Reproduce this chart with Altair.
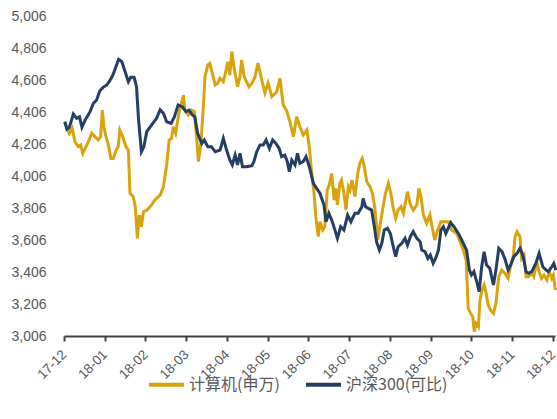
import altair as alt
import pandas as pd

month_labels = ["17-12", "18-01", "18-02", "18-03", "18-04", "18-05", "18-06",
                "18-07", "18-08", "18-09", "18-10", "18-11", "18-12"]
y_ticks = list(range(3006, 5007, 200))

name_cs = "计算机(申万)"
name_hs = "沪深300(可比)"

# x in months since 2017-12 (fractional)
cs_x = [0.02, 0.07, 0.13, 0.20, 0.27, 0.35, 0.41, 0.46, 0.52, 0.60, 0.68, 0.76, 0.84, 0.90, 0.94, 0.98,
        1.03, 1.09, 1.15, 1.21, 1.28, 1.33, 1.37, 1.44, 1.52, 1.58, 1.62, 1.70, 1.75, 1.80, 1.85, 1.90,
        1.95, 2.04, 2.15, 2.23, 2.36, 2.44, 2.52, 2.58, 2.64, 2.68, 2.74, 2.82, 2.89, 2.93, 2.97, 3.05,
        3.13, 3.20, 3.26, 3.30, 3.36, 3.42, 3.46, 3.53, 3.58, 3.64, 3.71, 3.77, 3.83, 3.91, 3.97, 4.02,
        4.07, 4.12, 4.17, 4.26, 4.32, 4.36, 4.42, 4.48, 4.54, 4.61, 4.69, 4.76, 4.86, 4.93, 5.01, 5.10,
        5.22, 5.30, 5.38, 5.47, 5.55, 5.63, 5.71, 5.79, 5.87, 5.96, 6.02, 6.08, 6.13, 6.18, 6.24, 6.28,
        6.35, 6.40, 6.46, 6.51, 6.57, 6.63, 6.67, 6.71, 6.77, 6.81, 6.87, 6.92, 6.98, 7.02, 7.07, 7.14,
        7.21, 7.26, 7.32, 7.37, 7.43, 7.51, 7.57, 7.63, 7.70, 7.75, 7.81, 7.89, 7.96, 8.02, 8.08, 8.14,
        8.20, 8.27, 8.33, 8.39, 8.43, 8.49, 8.57, 8.66, 8.71, 8.76, 8.82, 8.90, 8.98, 9.04, 9.10, 9.17,
        9.25, 9.31, 9.43, 9.51, 9.64, 9.72, 9.80, 9.87, 9.92, 9.98, 10.03, 10.07, 10.11, 10.17, 10.21,
        10.26, 10.31, 10.36, 10.41, 10.47, 10.54, 10.60, 10.67, 10.74, 10.82, 10.90, 10.96, 11.03, 11.07,
        11.12, 11.19, 11.23, 11.29, 11.34, 11.40, 11.48, 11.53, 11.60, 11.66, 11.72, 11.78, 11.85, 11.91,
        11.97, 12.01, 12.06]
cs_v = [4345, 4310, 4273, 4304, 4220, 4189, 4200, 4148, 4179, 4220, 4273, 4252, 4231, 4252, 4418, 4314,
        4252, 4200, 4116, 4116, 4168, 4189, 4293, 4252, 4189, 4168, 3898, 3877, 3814, 3616, 3762, 3689,
        3783, 3793, 3825, 3856, 3887, 3939, 4075, 4231, 4241, 4314, 4273, 4398, 4470, 4512, 4418, 4387,
        4418, 4408, 4231, 4096, 4210, 4439, 4627, 4700, 4710, 4648, 4575, 4585, 4617, 4595, 4658, 4720,
        4637, 4783, 4690, 4564, 4627, 4731, 4627, 4595, 4564, 4585, 4627, 4712, 4600, 4525, 4587, 4502,
        4533, 4617, 4450, 4410, 4340, 4252, 4376, 4314, 4262, 4293, 4189, 4023, 3918, 3752, 3627, 3720,
        3668, 3689, 3918, 3950, 4023, 3856, 3929, 3825, 3960, 3981, 3898, 3793, 3939, 3918, 3981, 3877,
        4023, 4085, 4116, 4064, 3970, 3939, 3898, 3804, 3606, 3689, 3783, 3898, 3960, 3898, 3804, 3741,
        3793, 3814, 3773, 3856, 3908, 3835, 3793, 3825, 3929, 3877, 3762, 3710, 3762, 3679, 3606, 3668,
        3720, 3720, 3720, 3668, 3647, 3595, 3543, 3481, 3179, 3148, 3127, 3033, 3085, 3064, 3231,
        3293, 3325, 3273, 3200, 3168, 3148, 3210, 3377, 3418, 3398, 3366, 3439, 3512, 3627,
        3658, 3627, 3491, 3512, 3377, 3377, 3398, 3377, 3471, 3408, 3366, 3387, 3356, 3408,
        3366, 3387, 3293]

hs_x = [0.02, 0.07, 0.13, 0.23, 0.31, 0.38, 0.44, 0.52, 0.64, 0.72, 0.80, 0.88, 0.96, 1.05, 1.11, 1.20,
        1.28, 1.34, 1.42, 1.50, 1.58, 1.64, 1.72, 1.78, 1.83, 1.90, 1.96, 2.03, 2.15, 2.27, 2.36, 2.44,
        2.52, 2.63, 2.71, 2.80, 2.90, 2.99, 3.07, 3.15, 3.21, 3.28, 3.38, 3.44, 3.53, 3.62, 3.71, 3.83,
        3.91, 3.99, 4.07, 4.13, 4.20, 4.26, 4.32, 4.38, 4.48, 4.61, 4.66, 4.73, 4.81, 4.89, 4.96, 5.04,
        5.12, 5.20, 5.28, 5.34, 5.42, 5.48, 5.53, 5.59, 5.67, 5.73, 5.79, 5.87, 5.94, 6.02, 6.12, 6.20,
        6.28, 6.38, 6.43, 6.50, 6.57, 6.65, 6.71, 6.79, 6.87, 6.96, 7.04, 7.14, 7.22, 7.31, 7.34, 7.40,
        7.47, 7.55, 7.61, 7.67, 7.74, 7.80, 7.86, 7.94, 8.01, 8.08, 8.14, 8.20, 8.29, 8.37, 8.43, 8.50,
        8.57, 8.66, 8.74, 8.78, 8.86, 8.93, 8.99, 9.06, 9.12, 9.19, 9.25, 9.31, 9.37, 9.49, 9.57, 9.68,
        9.76, 9.88, 9.95, 10.00, 10.06, 10.13, 10.19, 10.25, 10.31, 10.37, 10.45, 10.54, 10.60, 10.67,
        10.75, 10.83, 10.90, 10.96, 11.04, 11.12, 11.19, 11.26, 11.34, 11.40, 11.48, 11.58, 11.66, 11.75,
        11.83, 11.89, 11.97, 12.02, 12.07]
hs_v = [4345, 4298, 4310, 4393, 4366, 4376, 4310, 4356, 4408, 4460, 4481, 4539, 4560, 4575, 4595, 4637,
        4693, 4735, 4720, 4658, 4595, 4623, 4623, 4564, 4356, 4158, 4189, 4283, 4325, 4366, 4420, 4398,
        4345, 4335, 4376, 4450, 4439, 4408, 4418, 4387, 4376, 4272, 4210, 4231, 4189, 4189, 4158, 4168,
        4241, 4168, 4106, 4075, 4137, 4075, 4148, 4064, 4064, 4070, 4096, 4158, 4200, 4200, 4231, 4179,
        4231, 4210, 4179, 4127, 4137, 4096, 4033, 4106, 4075, 4148, 4085, 4096, 4127, 4064, 3960, 3929,
        3898, 3825, 3720, 3773, 3731, 3668, 3616, 3689, 3668, 3762, 3720, 3773, 3773, 3814, 3866, 3814,
        3804, 3793, 3700, 3595, 3543, 3585, 3668, 3679, 3647, 3564, 3502, 3564, 3585, 3616, 3575, 3627,
        3658, 3616, 3595, 3543, 3533, 3491, 3512, 3460, 3491, 3543, 3668, 3689, 3647, 3715, 3689, 3647,
        3606, 3543, 3418, 3387, 3408, 3345, 3283, 3439, 3533, 3450, 3429, 3325, 3418, 3554,
        3533, 3481, 3418, 3450, 3502, 3523, 3554, 3512, 3408, 3398, 3408, 3460, 3523, 3439,
        3418, 3408, 3439, 3460, 3418]

df_cs = pd.DataFrame({"m": cs_x, "v": cs_v, "s": name_cs})
df_hs = pd.DataFrame({"m": hs_x, "v": hs_v, "s": name_hs})

label_expr = "[" + ",".join("'%s'" % l for l in month_labels) + "][datum.value]"

color = alt.Color(
    "s:N",
    scale=alt.Scale(domain=[name_cs, name_hs], range=["#D9A30E", "#243F63"]),
    legend=alt.Legend(
        title=None, orient="none", legendX=83, legendY=349, direction="horizontal",
        symbolType="stroke", symbolSize=1225, symbolStrokeWidth=4,
        labelFont="Noto Sans CJK SC", labelFontSize=16, labelColor="#595959",
        labelOffset=3, columnPadding=18,
    ),
)

x = alt.X(
    "m:Q",
    scale=alt.Scale(domain=[0, 12.05], nice=False, zero=False),
    axis=alt.Axis(
        title=None, values=list(range(13)), labelExpr=label_expr, labelAngle=-45,
        labelAlign="right", labelBaseline="middle", labelFont="Liberation Sans",
        labelFontSize=13.5, labelColor="#595959", labelPadding=11,
        domainColor="#404040", domainWidth=2, tickColor="#404040", tickWidth=2,
        tickSize=5, grid=False,
    ),
)
y = alt.Y(
    "v:Q",
    scale=alt.Scale(domain=[3006, 5006], nice=False, zero=False),
    axis=alt.Axis(
        title=None, values=y_ticks, format=",.0f", labelFont="Liberation Sans",
        labelFontSize=14, labelColor="#595959", labelPadding=18, ticks=False,
        domain=False, grid=False,
    ),
)

line_cs = alt.Chart(df_cs).mark_line(strokeWidth=3, interpolate="linear").encode(x=x, y=y, color=color)
line_hs = alt.Chart(df_hs).mark_line(strokeWidth=3, interpolate="linear").encode(x=x, y=y, color=color)

chart = alt.layer(line_cs, line_hs).properties(
    width=491, height=320,
    padding={"left": 64, "top": 16, "right": 2, "bottom": 83},
    autosize=alt.AutoSizeParams(type="none"),
).configure_view(stroke=None)

chart.save("out.html", embed_options={"renderer": "svg", "actions": False})
